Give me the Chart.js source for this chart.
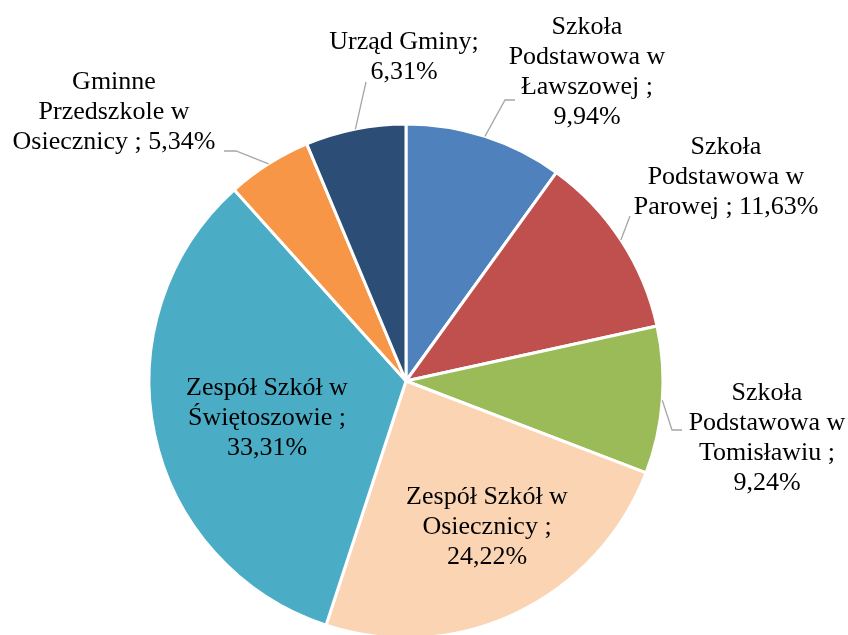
<!DOCTYPE html>
<html>
<head>
<meta charset="utf-8">
<script src="https://cdn.jsdelivr.net/npm/chart.js@4/dist/chart.umd.min.js"></script>
<style>
	html, body { margin: 0; padding: 0; background: #fff; }
	#wrap { width: 848px; height: 635px; }
</style>
</head>
<body>
<div id="wrap"><canvas id="pieChart" width="848" height="635"></canvas></div>
<script>
// data
const categories = [
	'Szkoła Podstawowa w Ławszowej',
	'Szkoła Podstawowa w Parowej',
	'Szkoła Podstawowa w Tomisławiu',
	'Zespół Szkół w Osiecznicy',
	'Zespół Szkół w Świętoszowie',
	'Gminne Przedszkole w Osiecznicy',
	'Urząd Gminy',
];
const shares = [9.94, 11.63, 9.24, 24.22, 33.31, 5.34, 6.31];
const labelLines = [
	['Szkoła', 'Podstawowa w', 'Ławszowej ;', '9,94%'],
	['Szkoła', 'Podstawowa w', 'Parowej ; 11,63%'],
	['Szkoła', 'Podstawowa w', 'Tomisławiu ;', '9,24%'],
	['Zespół Szkół w', 'Osiecznicy ;', '24,22%'],
	['Zespół Szkół w', 'Świętoszowie ;', '33,31%'],
	['Gminne', 'Przedszkole w', 'Osiecznicy ; 5,34%'],
	['Urząd Gminy;', '6,31%'],
];

// styles
const sliceColors = ['#4F81BD', '#C0504D', '#9BBB59', '#FBD4B4', '#4BACC6', '#F79646', '#2C4D75'];
const labelFont = '26px "Liberation Serif", "Times New Roman", serif';
const lineHeight = 30;
// label block centre (x, y of first line) and leader line points (null = label inside slice)
const labelLayout = [
	{ x: 587, y: 27, leader: [[505, 100], [515, 100]] },
	{ x: 726, y: 147, leader: [[630, 216]] },
	{ x: 767, y: 393, leader: [[672, 430], [682, 430]] },
	{ x: 487, y: 497, leader: null },
	{ x: 267, y: 388, leader: null },
	{ x: 114, y: 82, leader: [[236, 151], [224, 151]] },
	{ x: 404, y: 42, leader: [[366, 82]] },
];

const pieLabels = {
	id: 'pieLabels',
	afterDatasetsDraw(chart) {
		const ctx = chart.ctx;
		const arcs = chart.getDatasetMeta(0).data;
		ctx.save();
		ctx.strokeStyle = '#A6A6A6';
		ctx.lineWidth = 1.3;
		arcs.forEach((arc, i) => {
			const lay = labelLayout[i];
			if (!lay.leader) return;
			const mid = (arc.startAngle + arc.endAngle) / 2;
			const sx = arc.x + Math.cos(mid) * arc.outerRadius;
			const sy = arc.y + Math.sin(mid) * arc.outerRadius;
			ctx.beginPath();
			ctx.moveTo(sx, sy);
			lay.leader.forEach(([px, py]) => ctx.lineTo(px, py));
			ctx.stroke();
		});
		ctx.fillStyle = '#000';
		ctx.font = labelFont;
		ctx.textAlign = 'center';
		ctx.textBaseline = 'middle';
		labelLines.forEach((lines, i) => {
			const lay = labelLayout[i];
			lines.forEach((t, k) => ctx.fillText(t, lay.x, lay.y + k * lineHeight));
		});
		ctx.restore();
	},
};

new Chart(document.getElementById('pieChart').getContext('2d'), {
	type: 'pie',
	data: {
		labels: categories,
		datasets: [
			{
				data: shares,
				backgroundColor: sliceColors,
				borderColor: '#FFFFFF',
				borderWidth: 3,
				clip: false,
			},
		],
	},
	options: {
		responsive: false,
		animation: false,
		radius: 257,
		layout: { padding: { top: 127, bottom: 0, left: 0, right: 36 } },
		plugins: {
			legend: { display: false },
			tooltip: { enabled: false },
		},
	},
	plugins: [pieLabels],
});
</script>
</body>
</html>
